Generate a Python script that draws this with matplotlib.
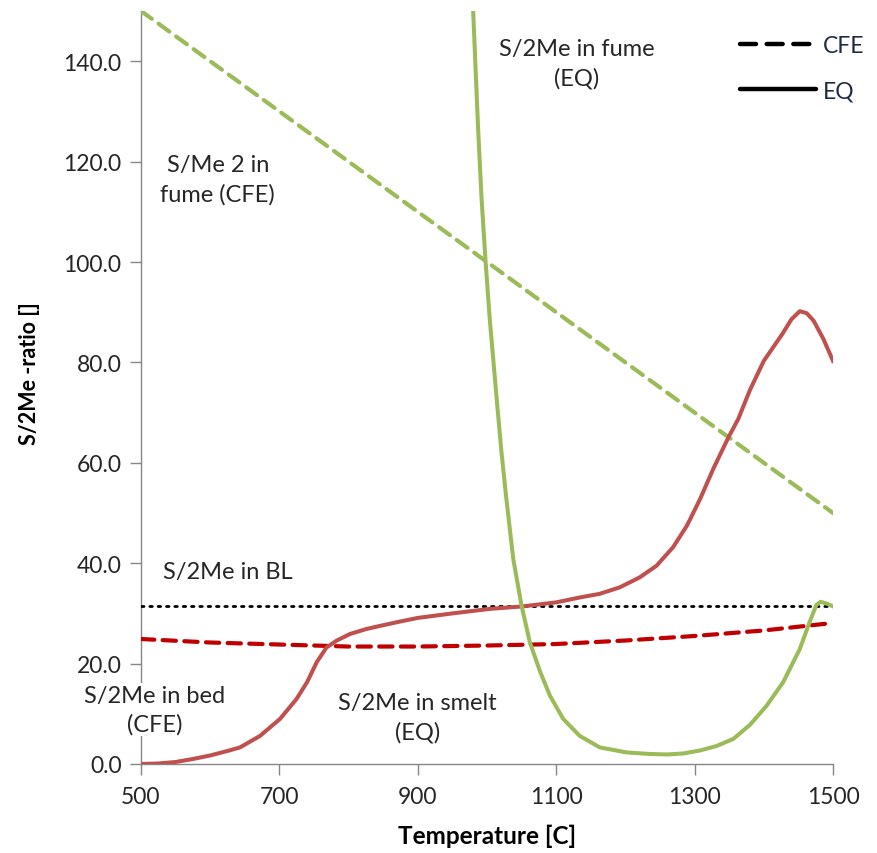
import matplotlib
matplotlib.use("Agg")
import matplotlib.pyplot as plt
from matplotlib.lines import Line2D
from matplotlib.ticker import FormatStrFormatter

plt.rcParams['font.family'] = ['Lato', 'DejaVu Sans']

# CFE fume (green dashed)
cfe_fume_T = [500, 1500]
cfe_fume_v = [150, 50]

# CFE bed (red dashed)
cfe_bed_T = [500, 600, 700, 800, 900, 1000, 1100, 1200, 1300, 1400, 1500]
cfe_bed_v = [24.9, 24.2, 23.8, 23.4, 23.4, 23.6, 23.9, 24.6, 25.5, 26.6, 28.1]

# BL level (black dotted)
bl_T = [500, 1500]
bl_v = [31.4, 31.4]

# EQ smelt (red solid)
eq_smelt_T = [500, 525, 550, 575, 600, 625, 643, 672, 701, 725, 740, 754, 768, 783, 802,
              826, 845, 875, 900, 950, 1004, 1052, 1100, 1135, 1163, 1192, 1221, 1245,
              1269, 1289, 1308, 1327, 1349, 1363, 1380, 1400, 1427, 1440, 1452, 1462,
              1472, 1486, 1500]
eq_smelt_v = [0.0, 0.1, 0.4, 1.0, 1.7, 2.6, 3.3, 5.6, 9.0, 13.0, 16.3, 20.3, 23.2, 24.6, 25.9,
              26.9, 27.5, 28.4, 29.1, 30.0, 30.9, 31.4, 32.2, 33.2, 33.9, 35.2, 37.2, 39.5,
              43.2, 47.5, 52.8, 58.8, 65.1, 68.7, 74.5, 80.3, 85.7, 88.6, 90.2, 89.8,
              88.3, 84.7, 80.3]

# EQ fume (green solid)
eq_fume_T = [975, 980, 987, 992, 998, 1004, 1014, 1021, 1028, 1038, 1050, 1062, 1077, 1091,
             1110, 1134, 1163, 1202, 1235, 1260, 1284, 1308, 1332, 1356, 1380, 1404, 1428,
             1452, 1466, 1476, 1482, 1490, 1500]
eq_fume_v = [166, 150, 127, 113, 100, 88.6, 72.7, 62.0, 52.8, 40.8, 31.5, 24.2, 18.3, 13.6,
             9.0, 5.6, 3.3, 2.3, 2.0, 1.9, 2.1, 2.7, 3.6, 5.0, 7.8, 11.6, 16.3,
             22.9, 28.2, 31.7, 32.3, 32.0, 31.4]

xticks = [500, 700, 900, 1100, 1300, 1500]
yticks = [0, 20, 40, 60, 80, 100, 120, 140]

GREEN = '#9BBB59'
RED = '#C0504D'
DRED = '#C00000'
GREY = '#868686'
TXT = '#262626'

fig = plt.figure(figsize=(8.77, 8.54), dpi=100)
ax = fig.add_axes([141/877, 1-765/854, (833-141)/877, (765-12)/854])

ax.plot(cfe_fume_T, cfe_fume_v, color=GREEN, lw=3.0, dashes=(3.2, 2.0),
        dash_capstyle='round', zorder=3)
ax.plot(bl_T, bl_v, color='black', lw=2.0, linestyle=(0, (0.9, 2.1)),
        dash_capstyle='round', zorder=3)
ax.plot(cfe_bed_T, cfe_bed_v, color=DRED, lw=3.0, dashes=(3.2, 2.0), dash_capstyle='round', zorder=3)
ax.plot(eq_smelt_T, eq_smelt_v, color=RED, lw=2.9, zorder=4, solid_joinstyle='round')
ax.plot(eq_fume_T, eq_fume_v, color=GREEN, lw=2.9, zorder=4, solid_joinstyle='round')

ax.set_xlim(500, 1500)
ax.set_ylim(0, 150)
ax.set_xticks(xticks)
ax.set_yticks(yticks)
ax.yaxis.set_major_formatter(FormatStrFormatter('%.1f'))
for s in ['top', 'right']:
    ax.spines[s].set_visible(False)
for s in ['left', 'bottom']:
    ax.spines[s].set_color(GREY)
    ax.spines[s].set_linewidth(1.0)
ax.tick_params(axis='both', direction='out', color=GREY, length=8, width=1.0,
               labelsize=16.5, labelcolor=TXT)
ax.tick_params(axis='x', pad=8)
ax.tick_params(axis='y', pad=6)

ax.set_xlabel('Temperature [C]', fontsize=17.5, fontweight='bold', color='black', labelpad=12)
ax.set_ylabel('S/2Me -ratio []', fontsize=15.5, fontweight='bold', color='black')
ax.yaxis.set_label_coords(-0.146, 0.52)

tk = dict(fontsize=17, color=TXT, ha='center', va='center', linespacing=1.45)
ax.text(1130, 139.6, 'S/2Me in fume\n(EQ)', **tk)
ax.text(611, 116.5, 'S/Me 2 in\nfume (CFE)', **tk)
ax.text(532, 38.4, 'S/2Me in BL', fontsize=17, color=TXT, ha='left', va='center')
ax.text(520, 10.8, 'S/2Me in bed\n(CFE)', clip_on=False, zorder=6,
        bbox=dict(facecolor='white', edgecolor='none', pad=1), **tk)
ax.text(900, 9.4, 'S/2Me in smelt\n(EQ)', **tk)

handles = [Line2D([], [], color='black', lw=3.2, dashes=(3.6, 2.4), dash_capstyle='round'),
           Line2D([], [], color='black', lw=3.2, solid_capstyle='round')]
leg = ax.legend(handles, ['CFE', 'EQ'], loc='upper right', bbox_to_anchor=(1.075, 0.995),
                frameon=False, fontsize=16.5, handlelength=3.3, handletextpad=0.3,
                labelspacing=1.05)
for t in leg.get_texts():
    t.set_color('#1f2a44')

fig.savefig('out.png', dpi=100)
